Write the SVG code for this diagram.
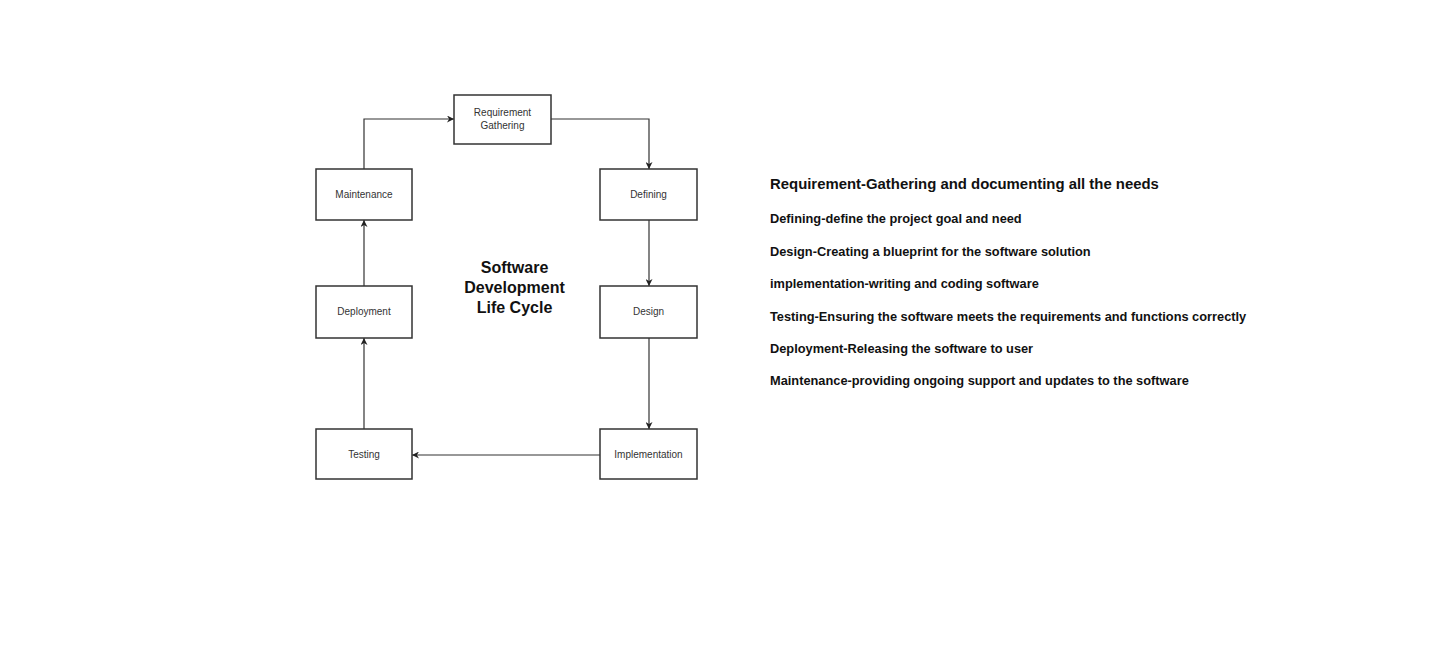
<svg xmlns="http://www.w3.org/2000/svg" width="1440" height="657" viewBox="0 0 1440 657">
<style>
.box{fill:#fff;stroke:#333;stroke-width:1.5}
.lbl{font-family:"Liberation Sans",Arial,sans-serif;font-size:10px;fill:#333;text-anchor:middle}
.edge{fill:none;stroke:#333;stroke-width:1.2}
.title{font-family:"Liberation Sans",Arial,sans-serif;font-size:16px;font-weight:bold;fill:#111;text-anchor:middle}
.desc{font-family:"Liberation Sans",Arial,sans-serif;font-size:12.8px;font-weight:bold;fill:#111}
.head{font-family:"Liberation Sans",Arial,sans-serif;font-size:14.9px;font-weight:bold;fill:#111}
</style>
<defs>
<marker id="arr" viewBox="0 0 10 10" refX="10" refY="5" markerWidth="7" markerHeight="7" orient="auto" markerUnits="userSpaceOnUse">
<path d="M0,0 L10,5 L0,10 L3,5 Z" fill="#222"/>
</marker>
</defs>
<rect width="1440" height="657" fill="#fff"/>
<g id="connectors">
<path class="edge" d="M364,169 V119 H454" marker-end="url(#arr)"/>
<path class="edge" d="M551,119 H649 V169" marker-end="url(#arr)"/>
<path class="edge" d="M649,220 V286" marker-end="url(#arr)"/>
<path class="edge" d="M649,338 V429" marker-end="url(#arr)"/>
<path class="edge" d="M600,455 H412" marker-end="url(#arr)"/>
<path class="edge" d="M364,429 V338" marker-end="url(#arr)"/>
<path class="edge" d="M364,286 V220" marker-end="url(#arr)"/>
</g>
<g id="req"><rect class="box" x="454" y="95" width="97" height="49"/><text class="lbl" x="502.5" y="116">Requirement</text><text class="lbl" x="502.5" y="129">Gathering</text></g>
<g id="maintenance"><rect class="box" x="316" y="169" width="96" height="51"/><text class="lbl" x="364" y="197.5">Maintenance</text></g>
<g id="defining"><rect class="box" x="600" y="169" width="97" height="51"/><text class="lbl" x="648.5" y="197.5">Defining</text></g>
<g id="deployment"><rect class="box" x="316" y="286" width="96" height="52"/><text class="lbl" x="364" y="315">Deployment</text></g>
<g id="design"><rect class="box" x="600" y="286" width="97" height="52"/><text class="lbl" x="648.5" y="315">Design</text></g>
<g id="testing"><rect class="box" x="316" y="429" width="96" height="50"/><text class="lbl" x="364" y="457.5">Testing</text></g>
<g id="implementation"><rect class="box" x="600" y="429" width="97" height="50"/><text class="lbl" x="648.5" y="457.5">Implementation</text></g>
<g id="title">
<text class="title" x="514.5" y="273">Software</text>
<text class="title" x="514.5" y="293">Development</text>
<text class="title" x="514.5" y="313">Life Cycle</text>
</g>
<g id="descriptions">
<text class="head" x="770" y="189">Requirement-Gathering and documenting all the needs</text>
<text class="desc" x="770" y="222.5">Defining-define the project goal and need</text>
<text class="desc" x="770" y="255.5">Design-Creating a blueprint for the software solution</text>
<text class="desc" x="770" y="287.5">implementation-writing and coding software</text>
<text class="desc" x="770" y="320.5">Testing-Ensuring the software meets the requirements and functions correctly</text>
<text class="desc" x="770" y="352.5">Deployment-Releasing the software to user</text>
<text class="desc" x="770" y="384.5">Maintenance-providing ongoing support and updates to the software</text>
</g>
</svg>
